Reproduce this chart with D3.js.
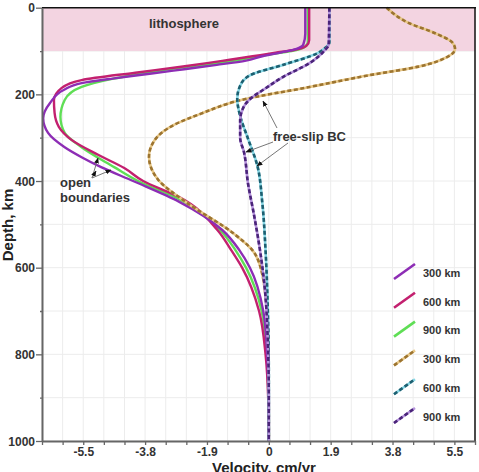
<!DOCTYPE html>
<html>
<head>
<meta charset="utf-8">
<script src="https://cdn.jsdelivr.net/npm/d3@7"></script>
<style>
  body { margin: 0; background: #fff; }
  svg { display: block; font-family: "Liberation Sans", Arial, sans-serif; }
  .tick text { font-size: 12px; font-weight: bold; fill: #333; }
</style>
</head>
<body>
<svg width="479" height="472"></svg>
<script>
// velocity profiles, [depth km, velocity cm/yr]
const openPurple = [[0,1.12],[60,1.12],[85,1.06],[95,0.85],[103,0.4],[112,-0.2],[122,-0.7],[132,-1.6],[142,-2.6],[152,-3.6],[163,-4.75],[174,-5.75],[190,-6.3],[220,-6.72],[255,-6.93],[289,-6.78],[322,-6.27],[345,-5.75],[368,-5.15],[400,-4.17],[448,-2.75],[513,-1.43],[560,-0.9],[600,-0.58],[700,-0.17],[800,-0.05],[900,-0.01],[1000,0]];
const openMagenta = [[0,1.24],[75,1.24],[88,1.15],[97,0.8],[104,0.2],[112,-0.5],[120,-1.2],[128,-1.9],[137,-2.75],[150,-4.1],[167,-5.75],[185,-6.36],[213,-6.6],[243,-6.58],[275,-6.45],[305,-6.06],[340,-5.23],[370,-4.44],[400,-3.86],[437,-2.75],[513,-1.58],[560,-1.15],[600,-0.82],[700,-0.3],[800,-0.1],[900,-0.02],[1000,0]];
const openGreen = [[0,1.2],[80,1.2],[92,1.08],[100,0.7],[107,0.1],[116,-0.6],[126,-1.4],[139,-2.75],[150,-3.75],[165,-4.85],[183,-5.75],[213,-6.27],[252,-6.4],[289,-6.27],[322,-5.75],[368,-4.75],[400,-4.02],[442,-2.75],[513,-1.5],[560,-1.02],[600,-0.7],[700,-0.22],[800,-0.07],[900,-0.01],[1000,0]];
const slipBrown = [[0,3.62],[35,4.29],[59,5.11],[79,5.62],[95,5.72],[113,5.5],[136,4.6],[156,3.07],[183,1.25],[213,-0.85],[245,-2.1],[270,-2.9],[305,-3.5],[344,-3.68],[397,-3.4],[451,-2.5],[520,-1.1],[560,-0.5],[600,-0.25],[700,-0.06],[800,-0.01],[1000,0]];
const slipTeal = [[0,1.86],[80,1.86],[92,1.75],[105,1.5],[132,0.43],[156,-0.58],[180,-0.88],[210,-0.97],[250,-0.88],[300,-0.65],[365,-0.35],[450,-0.2],[560,-0.1],[700,-0.03],[850,0],[1000,0]];
const slipViolet = [[0,1.86],[85,1.84],[98,1.72],[128,1.25],[160,0.43],[190,-0.18],[206,-0.5],[230,-0.78],[260,-0.88],[300,-0.88],[334,-0.76],[405,-0.64],[480,-0.45],[560,-0.27],[650,-0.12],[750,-0.04],[900,0],[1000,0]];

const xMinorStep = 1.9 / 3;
const xTickSteps = d3.range(-11, 11);
const xMajorSteps = [-9, -6, -3, 0, 3, 6, 9];
const xMajorLabels = ["-5.5", "-3.8", "-1.9", "0", "1.9", "3.8", "5.5"];
const yTicks = d3.range(0, 1001, 100);
const yMajorLabels = [0, 200, 400, 600, 800, 1000];
const legendLabels = ["300 km", "600 km", "900 km", "300 km", "600 km", "900 km"];

const series = [
  {data: openGreen,   color: "#5fde55", dash: null},
  {data: openMagenta, color: "#c3206f", dash: null},
  {data: openPurple,  color: "#8d2db5", dash: null},
  {data: slipBrown,   color: "#9c7430", light: "#e8c888", dash: "4,2.5"},
  {data: slipTeal,    color: "#1d5f70", light: "#86d6e4", dash: "4,2.5"},
  {data: slipViolet,  color: "#4a2479", light: "#b592dc", dash: "4,2.5"}
];
const legendOrder = [2, 1, 0, 3, 4, 5];

const L = 42, R = 475, T = 7.7, B = 441;
const svg = d3.select("svg");

const x = d3.scaleLinear().domain([-11 * xMinorStep, 10 * xMinorStep]).range([L, R]);
const y = d3.scaleLinear().domain([0, 1000]).range([T, B]);

// grid
const grid = svg.append("g").attr("stroke", "#ececec").attr("stroke-width", 1);
grid.selectAll(".vg").data(xTickSteps).enter().append("line")
  .attr("x1", d => x(d * xMinorStep)).attr("x2", d => x(d * xMinorStep))
  .attr("y1", T).attr("y2", B);
grid.selectAll(".hg").data(yTicks).enter().append("line")
  .attr("x1", L).attr("x2", R)
  .attr("y1", d => y(d)).attr("y2", d => y(d));

// lithosphere band
svg.append("rect")
  .attr("x", L).attr("y", y(0)).attr("width", R - L).attr("height", y(100) - y(0))
  .attr("fill", "#f3d4e1");
svg.append("text").attr("x", 184).attr("y", 28)
  .attr("text-anchor", "middle").attr("font-size", 13).attr("font-weight", "bold")
  .attr("fill", "#333").text("lithosphere");

// curves
const line = d3.line()
  .x(d => x(d[1])).y(d => y(d[0]))
  .curve(d3.curveMonotoneY);

series.forEach(s => {
  if (s.dash) {
    svg.append("path").datum(s.data).attr("d", line)
      .attr("fill", "none").attr("stroke", s.light).attr("stroke-width", 2.6);
    svg.append("path").datum(s.data).attr("d", line)
      .attr("fill", "none").attr("stroke", s.color).attr("stroke-width", 2.6)
      .attr("stroke-dasharray", s.dash);
  } else {
    svg.append("path").datum(s.data).attr("d", line)
      .attr("fill", "none").attr("stroke", s.color).attr("stroke-width", 2.4);
  }
});

// frame
svg.append("line").attr("x1", L).attr("x2", R + 1).attr("y1", T).attr("y2", T)
  .attr("stroke", "#111").attr("stroke-width", 1.5);
svg.append("line").attr("x1", R).attr("x2", R).attr("y1", T).attr("y2", B)
  .attr("stroke", "#111").attr("stroke-width", 1.5);

// axes
const xAxis = d3.axisBottom(x)
  .tickValues(xTickSteps.map(d => d * xMinorStep))
  .tickSize(4).tickSizeOuter(0).tickPadding(2)
  .tickFormat((d, i) => {
    const k = xMajorSteps.indexOf(xTickSteps[i]);
    return k >= 0 ? xMajorLabels[k] : "";
  });
const gx = svg.append("g").attr("transform", `translate(0,${B})`).call(xAxis);

const yAxis = d3.axisLeft(y)
  .tickValues(yTicks).tickSize(6).tickSizeOuter(0).tickPadding(1)
  .tickFormat(d => yMajorLabels.includes(d) ? d : "");
const gy = svg.append("g").attr("transform", `translate(${L},0)`).call(yAxis);
gy.selectAll(".tick").filter(d => !yMajorLabels.includes(d)).select("line").attr("x2", -2);

[gx, gy].forEach(g => {
  g.select(".domain").attr("stroke", "#666").attr("stroke-width", 2);
  g.selectAll(".tick line").attr("stroke", "#666").attr("stroke-width", 1.3);
});
gy.selectAll(".tick text").attr("dy", "0.35em");

svg.append("text").attr("x", 264).attr("y", 473)
  .attr("text-anchor", "middle").attr("font-size", 15).attr("font-weight", "bold")
  .attr("fill", "#222").text("Velocity, cm/yr");
svg.append("text").attr("transform", "translate(13,225) rotate(-90)")
  .attr("text-anchor", "middle").attr("font-size", 15).attr("font-weight", "bold")
  .attr("fill", "#222").text("Depth, km");

// legend
const lg = svg.append("g");
legendOrder.forEach((si, i) => {
  const s = series[si];
  const cy = 273 + i * 28.8;
  const seg = [[394, cy + 6], [415, cy - 9]];
  if (s.dash) {
    lg.append("path").attr("d", d3.line()(seg)).attr("stroke", s.light).attr("stroke-width", 2.6);
    lg.append("path").attr("d", d3.line()(seg)).attr("stroke", s.color).attr("stroke-width", 2.6)
      .attr("stroke-dasharray", s.dash);
  } else {
    lg.append("path").attr("d", d3.line()(seg)).attr("stroke", s.color).attr("stroke-width", 2.6);
  }
  lg.append("text").attr("x", 423).attr("y", cy).attr("dy", "0.35em")
    .attr("font-size", 11).attr("font-weight", "bold").attr("fill", "#333")
    .text(legendLabels[i]);
});

// annotations
const defs = svg.append("defs");
defs.append("marker").attr("id", "ah").attr("viewBox", "0 0 10 10")
  .attr("refX", 9).attr("refY", 5).attr("markerWidth", 6).attr("markerHeight", 6)
  .attr("markerUnits", "userSpaceOnUse").attr("orient", "auto")
  .append("path").attr("d", "M0,1 L10,5 L0,9 z").attr("fill", "#111");

const arrows = [
  [92, 178, 98, 158], [92, 178, 96, 171], [92, 178, 111, 170],
  [277, 128, 263, 101], [273, 142, 246, 152], [288, 143, 257, 166]
];
svg.append("g").selectAll("line").data(arrows).enter().append("line")
  .attr("x1", d => d[0]).attr("y1", d => d[1]).attr("x2", d => d[2]).attr("y2", d => d[3])
  .attr("stroke", "#777").attr("stroke-width", 1).attr("marker-end", "url(#ah)");

svg.append("text").attr("x", 60).attr("y", 187)
  .attr("font-size", 13).attr("font-weight", "bold").attr("fill", "#333").text("open");
svg.append("text").attr("x", 60).attr("y", 202)
  .attr("font-size", 13).attr("font-weight", "bold").attr("fill", "#333").text("boundaries");
svg.append("text").attr("x", 273).attr("y", 141)
  .attr("font-size", 13).attr("font-weight", "bold").attr("fill", "#333").text("free-slip BC");
</script>
</body>
</html>
